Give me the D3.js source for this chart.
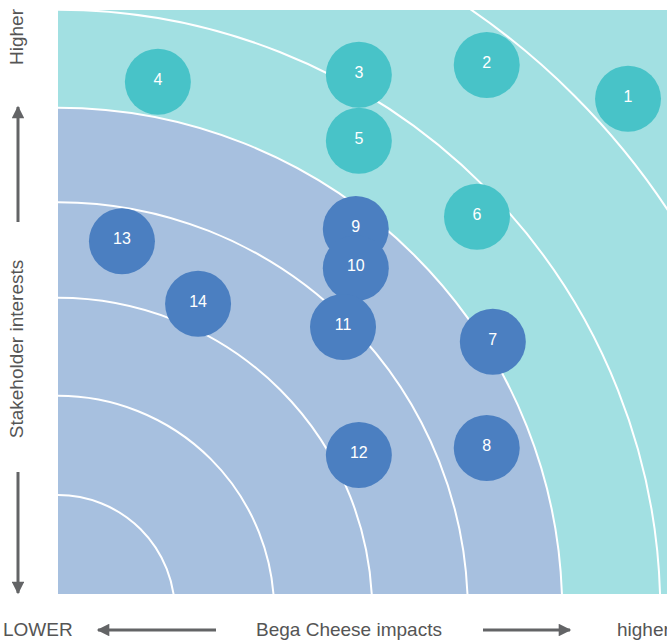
<!DOCTYPE html>
<html>
<head>
<meta charset="utf-8">
<script src="https://cdn.jsdelivr.net/npm/d3@7"></script>
<style>
  body { margin: 0; background: #fff; }
  text { font-family: "Liberation Sans", Arial, Helvetica, sans-serif; }
</style>
</head>
<body>
<script>
//Issue numbers and where they sit (impact on x, stakeholder interest on y, 0-10)
var issues = ["1", "2", "3", "4", "5", "6", "7", "8", "9", "10", "11", "12", "13", "14"];
var impacts = [9.36, 7.04, 4.94, 1.64, 4.94, 6.88, 7.14, 7.04, 4.89, 4.89, 4.68, 4.94, 1.05, 2.30];
var interests = [8.48, 9.06, 8.89, 8.77, 7.76, 6.46, 4.32, 2.50, 6.25, 5.58, 4.57, 2.38, 6.04, 4.97];
var groups = ["high", "high", "high", "high", "high", "high", "mid", "mid", "mid", "mid", "mid", "mid", "mid", "mid"];

//Rings in the background (same units as the impact axis)
var rings = [1.92, 3.55, 5.16, 6.73, 8.28, 9.89, 11.99];
var innerZone = 8.28;

var axisLabels = { xLow: "LOWER", xMid: "Bega Cheese impacts", xHigh: "higher", yHigh: "Higher", yMid: "Stakeholder interests" };

var width = 667, height = 641;
var plot = { left: 58, top: 10, right: 690, bottom: 594 };

var svg = d3.select("body").append("svg")
  .attr("width", width)
  .attr("height", height);

var x = d3.scaleLinear().domain([0, 10]).range([plot.left, 667]);
var y = d3.scaleLinear().domain([0, 10]).range([plot.bottom, plot.top]);
var radius = d3.scaleLinear().domain([0, 10]).range([0, x(10) - x(0)]);

var colour = d3.scaleOrdinal().domain(["high", "mid"]).range(["#48c3c8", "#4b7fc1"]);

svg.append("clipPath").attr("id", "plotclip")
  .append("rect")
  .attr("x", plot.left).attr("y", plot.top)
  .attr("width", plot.right - plot.left).attr("height", plot.bottom - plot.top);

var bg = svg.append("g").attr("clip-path", "url(#plotclip)");

bg.append("rect")
  .attr("x", plot.left).attr("y", plot.top)
  .attr("width", plot.right - plot.left).attr("height", plot.bottom - plot.top)
  .attr("fill", "#a2e0e2");

//the rings are centred a little below the bottom-left corner
var cx = x(0), cy = y(0) + 18;

bg.append("circle")
  .attr("cx", cx).attr("cy", cy)
  .attr("r", radius(innerZone))
  .attr("fill", "#a7c0df");

bg.selectAll(".ring")
  .data(rings)
  .enter().append("circle")
  .attr("class", "ring")
  .attr("cx", cx).attr("cy", cy)
  .attr("r", function(d) { return radius(d); })
  .attr("fill", "none")
  .attr("stroke", "#fff")
  .attr("stroke-width", 2);

//the issue bubbles
var data = issues.map(function(d, i) {
  return { label: d, impact: impacts[i], interest: interests[i], group: groups[i] };
});

var bubble = svg.selectAll(".bubble")
  .data(data)
  .enter().append("g")
  .attr("class", "bubble")
  .attr("transform", function(d) { return "translate(" + x(d.impact) + "," + y(d.interest) + ")"; });

bubble.append("circle")
  .attr("r", 33)
  .attr("fill", function(d) { return colour(d.group); });

bubble.append("text")
  .attr("text-anchor", "middle")
  .attr("y", 3)
  .attr("fill", "#fff")
  .style("font-size", "16px")
  .text(function(d) { return d.label; });

//arrows and axis labels
var grey = "#636466";
var defs = svg.append("defs");
defs.append("marker")
  .attr("id", "head")
  .attr("viewBox", "0 0 10 10")
  .attr("refX", 9).attr("refY", 5)
  .attr("markerWidth", 6).attr("markerHeight", 4.2)
  .attr("markerUnits", "strokeWidth")
  .attr("orient", "auto")
  .append("path")
  .attr("d", "M0,0L10,5L0,10Z")
  .attr("fill", grey);

var arrows = [
  [18, 222, 18, 107],
  [18, 472, 18, 593],
  [216, 630, 98, 630],
  [483, 630, 570, 630]
];

svg.selectAll(".arrow")
  .data(arrows)
  .enter().append("line")
  .attr("class", "arrow")
  .attr("x1", function(d) { return d[0]; })
  .attr("y1", function(d) { return d[1]; })
  .attr("x2", function(d) { return d[2]; })
  .attr("y2", function(d) { return d[3]; })
  .attr("stroke", grey)
  .attr("stroke-width", 3)
  .attr("marker-end", "url(#head)");

var labelStyle = function(sel) {
  sel.attr("fill", "#555").style("font-size", "19px");
};

svg.append("text").call(labelStyle)
  .attr("x", 3).attr("y", 636)
  .text(axisLabels.xLow);

svg.append("text").call(labelStyle)
  .attr("x", 349).attr("y", 636)
  .attr("text-anchor", "middle")
  .text(axisLabels.xMid);

svg.append("text").call(labelStyle)
  .attr("x", 617).attr("y", 636)
  .text(axisLabels.xHigh);

svg.append("text").call(labelStyle)
  .attr("transform", "translate(23,37) rotate(-90)")
  .attr("text-anchor", "middle")
  .text(axisLabels.yHigh);

svg.append("text").call(labelStyle)
  .attr("transform", "translate(23,349) rotate(-90)")
  .attr("text-anchor", "middle")
  .text(axisLabels.yMid);
</script>
</body>
</html>
